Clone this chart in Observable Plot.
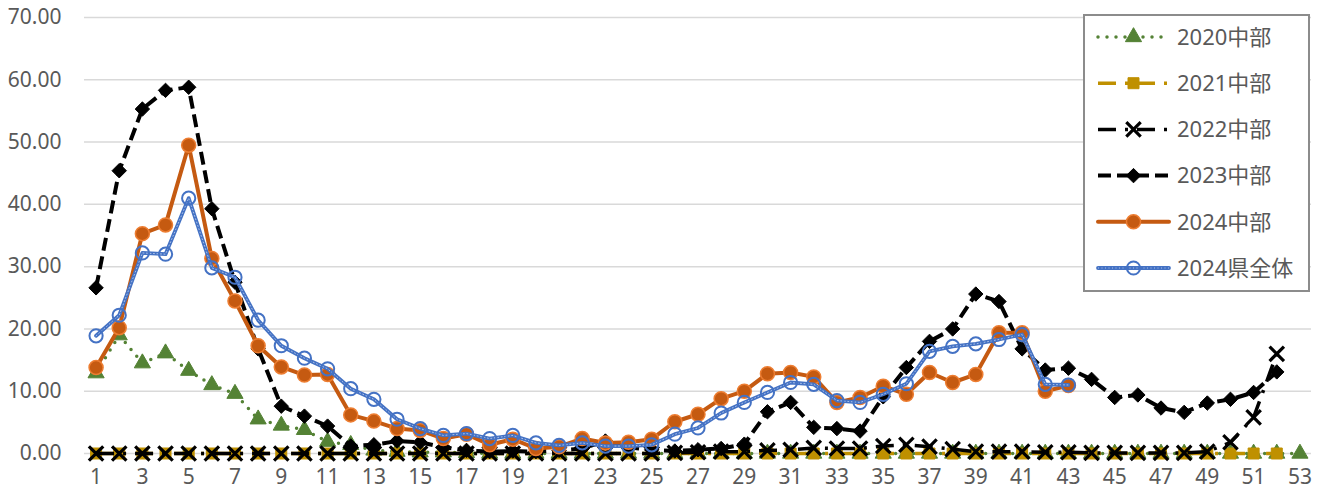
<!DOCTYPE html>
<html><head><meta charset="utf-8">
<script src="https://cdn.jsdelivr.net/npm/d3@7"></script>
<script src="https://cdn.jsdelivr.net/npm/@observablehq/plot@0.6"></script>
<style>
body{margin:0;background:#fff;}
#wrap{position:relative;width:1323px;height:497px;overflow:hidden;background:#fff;}
#legend{position:absolute;left:1083px;top:14px;width:223px;height:274px;border:2px solid #8c8c8c;background:#fff;}
</style></head><body><div id="wrap"></div>
<script>
// ---- data ----
const weeks = [1,2,3,4,5,6,7,8,9,10,11,12,13,14,15,16,17,18,19,20,21,22,23,24,25,26,27,28,29,30,31,32,33,34,35,36,37,38,39,40,41,42,43,44,45,46,47,48,49,50,51,52,53];
const xTicks = [1,3,5,7,9,11,13,15,17,19,21,23,25,27,29,31,33,35,37,39,41,43,45,47,49,51,53];
const yTicks = [0,10,20,30,40,50,60,70];
const seriesNames = ["2020中部","2021中部","2022中部","2023中部","2024中部","2024県全体"];

const s2020 = [12.9,19.0,14.5,16.1,13.3,11.0,9.6,5.5,4.5,3.8,1.9,1.4,0.5,0.3,0.2,0.2,0.1,0,0,0,0,0,0,0,0,0,0,0,0,0,0,0,0,0,0,0,0,0,0,0,0,0,0,0,0,0,0,0,0,0,0,0,0];
const s2021 = [0,0,0,0,0,0,0,0,0,0,0,0,0,0,0,0,0,0,0,0,0,0,0,0,0,0,0,0,0,0,0,0,0,0,0,0,0,0,0,0,0,0,0,0,0,0,0,0,0,0,0,0];
const s2022 = [0,0,0,0,0,0,0,0,0,0,0,0,0,0,0,0,0,0,0,0,0,0,0,0,0,0.1,0.2,0.3,0.3,0.5,0.6,0.9,0.8,0.8,1.2,1.4,1.1,0.7,0.3,0.3,0.3,0.2,0.2,0.1,0.1,0.1,0.1,0.1,0.3,1.8,5.8,16.0];
const s2023 = [26.6,45.4,55.3,58.3,58.8,39.3,27.5,16.8,7.6,6.0,4.4,1.2,1.4,2.0,1.8,1.0,0.5,0.3,0.4,0.3,0.5,0.8,2.0,1.0,0.6,0.4,0.6,0.8,1.5,6.7,8.2,4.2,4.0,3.6,9.1,13.8,18.0,20.0,25.6,24.4,16.8,13.4,13.7,11.9,9.0,9.4,7.3,6.6,8.1,8.7,9.8,13.1];
const s2024c = [13.8,20.2,35.3,36.7,49.5,31.3,24.5,17.3,13.9,12.6,12.7,6.2,5.2,4.0,3.7,2.4,3.1,1.4,2.3,0.8,1.1,2.4,1.7,1.8,2.3,5.1,6.3,8.8,10.0,12.8,13.0,12.3,8.2,9.0,10.8,9.5,13.0,11.4,12.7,19.4,19.4,10.0,10.9];
const s2024p = [18.9,22.2,32.2,32.0,41.0,29.8,28.3,21.4,17.3,15.3,13.6,10.4,8.7,5.5,4.0,2.9,3.2,2.4,2.9,1.7,1.3,1.7,1.2,1.2,1.4,3.1,4.1,6.5,8.2,9.8,11.4,11.1,8.5,8.2,9.5,11.2,16.4,17.2,17.6,18.3,19.1,11.1,11.0];

const seriesValues = [s2020, s2021, s2022, s2023, s2024c, s2024p];

// ---- styles ----
const styles = [
  {stroke:"#548235", width:3.5, dash:"0 9", cap:"round", symbol:"triangle", r:6, fill:"#548235", mstroke:"#548235", mw:1},
  {stroke:"#BF9000", width:3.5, dash:"18 9 3 9", cap:"butt", symbol:"square", r:6.2, fill:"#BF9000", mstroke:"#BF9000", mw:1},
  {stroke:"#000000", width:3.5, dash:"18 9 3 9", cap:"butt", symbol:"times", r:6.6, fill:"none", mstroke:"#000000", mw:3.2},
  {stroke:"#000000", width:4, dash:"13 6", cap:"butt", symbol:"diamond2", r:6.5, fill:"#000000", mstroke:"#000000", mw:1},
  {stroke:"#C55A11", width:4, dash:null, cap:"round", symbol:"circle", r:7, fill:"#C55A11", mstroke:"#ED7D31", mw:1.5},
  {stroke:"#4472C4", width:3.8, dash:null, cap:"round", symbol:"circle", r:6.6, fill:"none", mstroke:"#4472C4", mw:2}
];

const rowsBySeries = seriesNames.map((name, k) =>
  seriesValues[k].map((v, i) => ({week: weeks[i], value: v, series: name})));

const marks = [
  Plot.gridY(yTicks, {stroke:"#d9d9d9", strokeOpacity:1, strokeWidth:1.5}),
  Plot.axisY(yTicks, {tickSize:0, tickPadding:23, tickFormat:d => d.toFixed(2), label:null, fill:"#595959", fontSize:21}),
  Plot.axisX(xTicks, {tickSize:0, tickPadding:16, tickFormat:d => String(d), label:null, fill:"#595959", fontSize:21})
];
rowsBySeries.forEach((rows, k) => {
  const s = styles[k];
  marks.push(Plot.line(rows, {x:"week", y:"value", stroke:s.stroke, strokeWidth:s.width,
    strokeDasharray:s.dash || undefined, strokeLinecap:s.cap, strokeLinejoin:"round"}));
  if (k === 5) {
    marks.push(Plot.line(rows, {x:"week", y:"value", stroke:"#a9c0ea", strokeWidth:1, strokeDasharray:"1 2.5"}));
  }
  marks.push(Plot.dot(rows, {x:"week", y:"value", symbol:s.symbol, r:s.r, fill:s.fill, stroke:s.mstroke, strokeWidth:s.mw}));
});

const chart = Plot.plot({
  width:1323, height:497,
  marginLeft:84, marginRight:12, marginTop:17, marginBottom:44,
  x:{type:"linear", domain:[0.5, 53.5]},
  y:{domain:[0, 70]},
  style:{fontFamily:"'Noto Sans','Noto Sans CJK JP',sans-serif", fontSize:"21px", color:"#595959", background:"#fff"},
  marks
});
const wrap = document.getElementById("wrap");
wrap.appendChild(chart);

// ---- legend ----
const leg = document.createElement("div");
leg.id = "legend";
wrap.appendChild(leg);
const lsvg = d3.select(leg).append("svg").attr("width", 223).attr("height", 274)
  .style("font-family", "'Noto Sans','Noto Sans CJK JP',sans-serif");
const symMap = {triangle:d3.symbolTriangle, square:d3.symbolSquare, times:d3.symbolTimes, diamond2:d3.symbolDiamond2, circle:d3.symbolCircle};
seriesNames.forEach((name, k) => {
  const s = styles[k];
  const cy = 21 + k * 46.2;
  const g = lsvg.append("g").attr("transform", `translate(0,${cy})`);
  g.append("line").attr("x1", 13).attr("x2", 84).attr("y1", 0).attr("y2", 0)
    .attr("stroke", s.stroke).attr("stroke-width", s.width)
    .attr("stroke-dasharray", s.dash || null).attr("stroke-linecap", s.cap);
  if (k === 5) {
    g.append("line").attr("x1", 13).attr("x2", 84).attr("stroke", "#a9c0ea").attr("stroke-width", 1).attr("stroke-dasharray", "1 2.5");
  }
  g.append("path").attr("transform", "translate(48.5,0)")
    .attr("d", d3.symbol(symMap[s.symbol], Math.PI * s.r * s.r)())
    .attr("fill", s.fill).attr("stroke", s.mstroke).attr("stroke-width", s.mw);
  g.append("text").attr("x", 92).attr("y", 0).attr("dy", "0.35em")
    .attr("font-size", 22).attr("fill", "#595959").text(name);
});
</script>
</body></html>
